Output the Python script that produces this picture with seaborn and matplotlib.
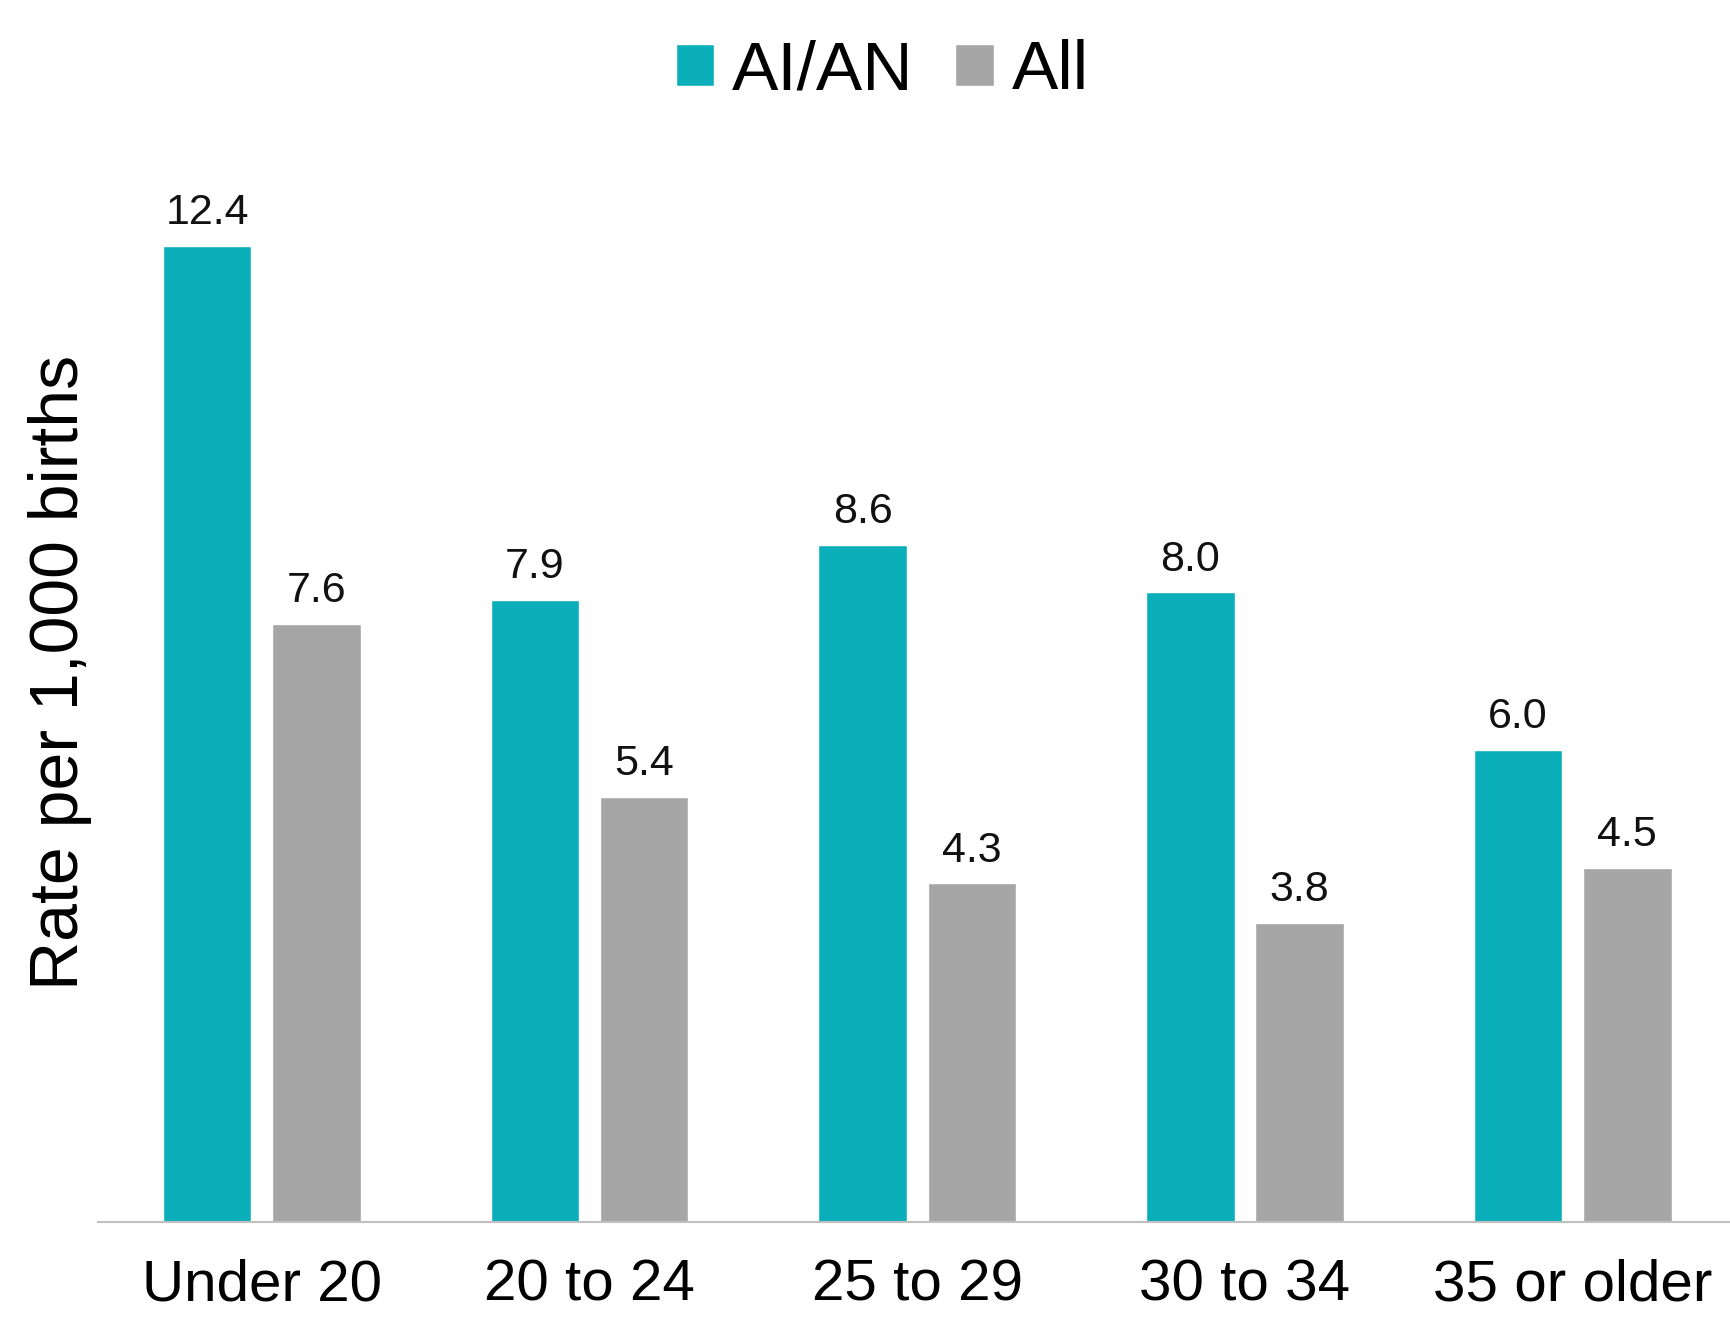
import pandas as pd
import matplotlib
matplotlib.use('Agg')
import matplotlib.pyplot as plt
import seaborn as sns

# Data
age_groups = ['Under 20', '20 to 24', '25 to 29', '30 to 34', '35 or older']
groups = ['AI/AN', 'All']
aian_rates = [12.4, 7.9, 8.6, 8.0, 6.0]
all_rates = [7.6, 5.4, 4.3, 3.8, 4.5]

df = pd.DataFrame({
    'age': age_groups * 2,
    'group': ['AI/AN'] * len(age_groups) + ['All'] * len(age_groups),
    'rate': aian_rates + all_rates,
})

sns.set_style('white')
plt.rcParams['font.family'] = ['Liberation Sans', 'DejaVu Sans']

fig = plt.figure(figsize=(17.3, 13.19), dpi=100)
ax = fig.add_axes([0.0566, 0.0735, 0.9434, 0.834])

palette = {'AI/AN': '#0AAFBA', 'All': '#A6A6A6'}
sns.barplot(data=df, x='age', y='rate', hue='group', order=age_groups,
            hue_order=groups, palette=palette, width=0.667, gap=0.19,
            saturation=1, ax=ax)

for container in ax.containers:
    ax.bar_label(container, fmt='%.1f', padding=9, fontsize=31, color='#111111')

ax.set_xlim(-0.5, 4.48)
ax.set_ylim(0, 13.97)
ax.set_yticks([])
ax.set_xlabel('')
ax.set_ylabel('Rate per 1,000 births', fontsize=49, color='black')
ax.yaxis.set_label_coords(-0.0035, 0.5)
ax.tick_params(axis='x', length=0, pad=26, labelsize=42, labelcolor='black')

for side in ['top', 'right', 'left']:
    ax.spines[side].set_visible(False)
ax.spines['bottom'].set_color('#BFBFBF')
ax.spines['bottom'].set_linewidth(1.5)

handles, labels = ax.get_legend_handles_labels()
ax.get_legend().remove()
leg = fig.legend(handles, labels, loc='center', bbox_to_anchor=(0.51, 0.946),
                 ncol=2, frameon=False, fontsize=50, handlelength=0.55,
                 handleheight=0.55, handletextpad=0.26, columnspacing=0.6)
for t in leg.get_texts():
    t.set_color('black')

fig.savefig('out.png', dpi=100)
